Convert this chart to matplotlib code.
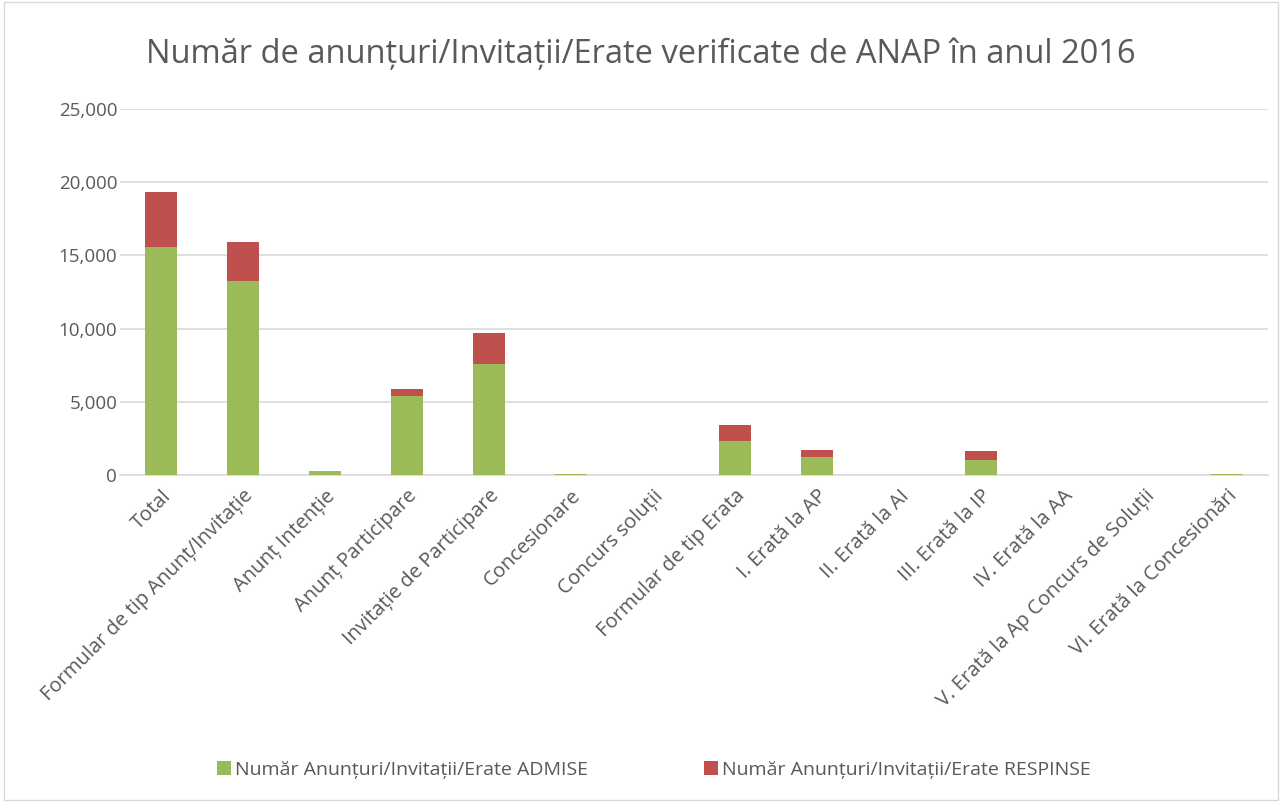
import numpy as np
import matplotlib.pyplot as plt
from matplotlib.patches import Rectangle

# ----------- Data -----------
categories = ['Total', 'Formular de tip Anunț/Invitație', 'Anunț Intenție',
              'Anunț Participare', 'Invitație de Participare', 'Concesionare',
              'Concurs soluții', 'Formular de tip Erata', 'I. Erată la AP',
              'II. Erată la AI', 'III. Erată la IP', 'IV. Erată la AA',
              'V. Erată la Ap Concurs de Soluții', 'VI. Erată la Concesionări']
admise = [15600, 13270, 250, 5420, 7580, 80, 0, 2320, 1230, 5, 1025, 0, 0, 60]
respinse = [3750, 2665, 20, 480, 2100, 20, 0, 1095, 457, 2, 615, 0, 0, 40]
yticks = [0, 5000, 10000, 15000, 20000, 25000]

green = '#9BBB59'
red = '#C0504D'
text_col = '#595959'
grid_col = '#D9D9D9'

plt.rcParams['font.family'] = ['Open Sans', 'DejaVu Sans']

fig = plt.figure(figsize=(12.82, 8.02), dpi=100)
ax = fig.add_axes([120 / 1282, 1 - 475 / 802, (1268 - 120) / 1282, (475 - 109) / 802])

x = np.arange(len(categories))
ax.bar(x, admise, width=0.4, color=green, label='Număr Anunțuri/Invitații/Erate ADMISE', zorder=3)
ax.bar(x, respinse, width=0.4, bottom=admise, color=red,
       label='Număr Anunțuri/Invitații/Erate RESPINSE', zorder=3)

ax.set_xlim(-0.5, len(categories) - 0.5)
ax.set_ylim(0, 25000)
ax.set_yticks(yticks)
ax.set_yticklabels([f'{v:,}' for v in yticks], color=text_col, fontsize=13.5)
ax.set_xticks(x)
ax.set_xticklabels(categories, rotation=45, ha='right', rotation_mode='anchor',
                   color=text_col, fontsize=14.5)
ax.tick_params(length=0, pad=8)
ax.tick_params(axis='y', pad=2)
ax.grid(axis='y', color=grid_col, linewidth=1.2, zorder=0)
for s in ['top', 'right', 'left']:
    ax.spines[s].set_visible(False)
ax.spines['bottom'].set_color(grid_col)
ax.spines['bottom'].set_linewidth(1.2)

fig.text(0.5, 1 - 55 / 802, 'Număr de anunțuri/Invitații/Erate verificate de ANAP în anul 2016',
         ha='center', va='center', fontsize=23.5, color=text_col)

fig.legend(loc='center', bbox_to_anchor=(0.51, 1 - 770 / 802), ncol=2, frameon=False,
           fontsize=14, labelcolor=text_col, handlelength=0.7, handleheight=0.7,
           handletextpad=0.2, columnspacing=6)

fig.patches.append(Rectangle((4 / 1282, 2 / 802), 1 - 8 / 1282, 1 - 4 / 802,
                             transform=fig.transFigure, fill=False,
                             edgecolor=grid_col, linewidth=1))

fig.savefig('out.png', dpi=100)
